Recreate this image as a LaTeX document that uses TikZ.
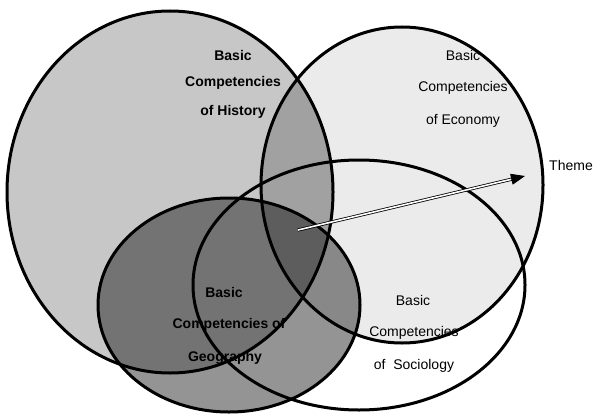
\documentclass[tikz,border=0pt]{standalone}
\usepackage{fontspec}
\setmainfont{Liberation Sans}
\usetikzlibrary{arrows.meta}
\begin{document}
\begin{tikzpicture}[x=1pt,y=-1pt,
  ring/.style={draw=black,line width=3pt},
  lbl/.style={font=\fontsize{14}{16}\selectfont,inner sep=1pt},
  blbl/.style={lbl,font=\fontsize{14}{16}\selectfont\bfseries},
  themearrow/.style={double=white,double distance=1.6pt,line width=0.8pt,
    -{Triangle[length=14pt,width=11pt]}}]
\useasboundingbox (0,0) rectangle (593,414);
% fills
\fill[black,fill opacity=0.22] (170,192) ellipse [x radius=163,y radius=181];
\fill[black,fill opacity=0.08] (402,185) ellipse [x radius=141,y radius=158];
\begin{scope}
  \clip (170,192) ellipse [x radius=163,y radius=181];
  \fill[black,fill opacity=0.12] (402,185) ellipse [x radius=141,y radius=158];
\end{scope}
\fill[black,fill opacity=0.42] (229,305) ellipse [x radius=131,y radius=107];
% outlines
\draw[ring] (170,192) ellipse [x radius=163,y radius=181];
\draw[ring] (402,185) ellipse [x radius=141,y radius=158];
\draw[ring] (359,285) ellipse [x radius=166,y radius=125];
\draw[ring] (229,305) ellipse [x radius=131,y radius=107];
% arrow
\coordinate (astart) at (298,230);
\coordinate (aend) at (525,176);
\draw[themearrow] (astart) -- (aend);
% labels
\node[blbl] (h1) at (233,55) {Basic};
\node[blbl] (h2) at (233,83) {Competencies};
\node[blbl] (h3) at (233,112) {of History};
\node[lbl] (e1) at (463,55) {Basic};
\node[lbl] (e2) at (463,88) {Competencies};
\node[lbl] (e3) at (463,121) {of Economy};
\node[blbl] (g1) at (224,292) {Basic};
\node[blbl] (g2) at (229,325) {Competencies of};
\node[blbl] (g3) at (225,358) {Geography};
\node[lbl] (s1) at (413,300) {Basic};
\node[lbl] (s2) at (414,333) {Competencies};
\node[lbl] (s3) at (414,366) {of\ \ Sociology};
\node[lbl] (th) at (571,165) {Theme};
\end{tikzpicture}
\end{document}
